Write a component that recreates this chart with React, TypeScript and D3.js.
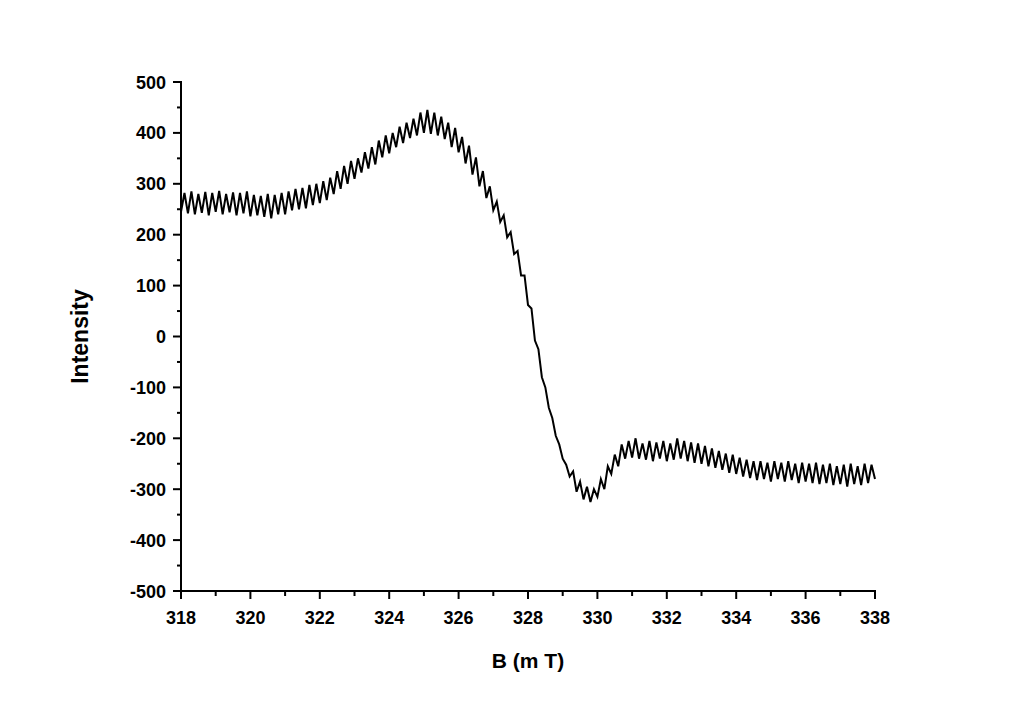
import React from "react";
import * as d3 from "d3";

// Magnetic field B (mT), sampled every 0.1 mT from 318 to 338
const fieldStart = 318;
const fieldStep = 0.1;

// Intensity readings (peaks and troughs of the noisy trace)
const intensity: number[] = [
  245, 282, 242, 285, 240, 280, 243, 284, 238, 282,
  245, 286, 240, 280, 244, 283, 238, 282, 242, 285,
  236, 278, 238, 276, 235, 280, 232, 278, 240, 282,
  240, 285, 248, 290, 250, 292, 252, 298, 258, 300,
  262, 305, 268, 312, 280, 325, 290, 335, 300, 345,
  310, 350, 322, 362, 330, 372, 338, 385, 352, 395,
  360, 400, 372, 412, 380, 420, 390, 428, 395, 440,
  400, 445, 398, 440, 395, 432, 388, 420, 372, 410,
  362, 392, 340, 375, 318, 352, 295, 325, 272, 295,
  248, 265, 225, 238, 195, 205, 162, 168, 120, 120,
  62, 55, -8, -25, -80, -100, -140, -160, -195, -212,
  -240, -252, -275, -265, -305, -285, -320, -295, -325, -300,
  -315, -280, -300, -255, -270, -232, -255, -212, -240, -205,
  -238, -200, -240, -210, -242, -205, -245, -208, -240, -205,
  -245, -210, -242, -200, -240, -205, -245, -208, -248, -210,
  -250, -215, -255, -220, -258, -225, -262, -230, -268, -232,
  -270, -238, -275, -242, -278, -245, -282, -245, -280, -248,
  -285, -245, -280, -248, -285, -245, -282, -250, -288, -248,
  -285, -250, -288, -248, -290, -252, -288, -250, -292, -255,
  -290, -252, -295, -250, -290, -255, -292, -250, -288, -252,
  -280,
];

const xTicks = [318, 320, 322, 324, 326, 328, 330, 332, 334, 336, 338];
const yTicks = [-500, -400, -300, -200, -100, 0, 100, 200, 300, 400, 500];

const xLabel = "B (m T)";
const yLabel = "Intensity";

export default function App() {
  const W = 1016;
  const H = 710;
  const left = 181;
  const right = 875;
  const top = 82;
  const bottom = 591;

  const x = d3.scaleLinear().domain([318, 338]).range([left, right]);
  const y = d3.scaleLinear().domain([-500, 500]).range([bottom, top]);

  const pts: [number, number][] = intensity.map((v, i) => [
    fieldStart + i * fieldStep,
    v,
  ]);
  const line = d3
    .line<[number, number]>()
    .x((d) => x(d[0]))
    .y((d) => y(d[1]));

  const xMinor = d3.range(319, 338, 2);
  const yMinor = d3.range(-450, 500, 100);

  const font = "'Liberation Sans', Arial, sans-serif";

  return (
    <svg
      width={W}
      height={H}
      style={{ position: "absolute", left: 0, top: 0, background: "#fff" }}
      fontFamily={font}
    >
      <rect x={0} y={0} width={W} height={H} fill="#fff" />
      <path
        d={line(pts) || ""}
        fill="none"
        stroke="#000"
        strokeWidth={2}
        strokeLinejoin="miter"
      />
      {/* axes */}
      <line x1={left} y1={top - 1} x2={left} y2={bottom + 1} stroke="#000" strokeWidth={2} />
      <line x1={left - 1} y1={bottom} x2={right + 1} y2={bottom} stroke="#000" strokeWidth={2} />
      {yTicks.map((t) => (
        <g key={"y" + t}>
          <line x1={left - 8} x2={left} y1={y(t)} y2={y(t)} stroke="#000" strokeWidth={2} />
          <text
            x={left - 15}
            y={y(t) + 6.5}
            textAnchor="end"
            fontSize={18}
            fontWeight="bold"
          >
            {t}
          </text>
        </g>
      ))}
      {yMinor.map((t) => (
        <line key={"ym" + t} x1={left - 4} x2={left} y1={y(t)} y2={y(t)} stroke="#000" strokeWidth={2} />
      ))}
      {xTicks.map((t) => (
        <g key={"x" + t}>
          <line x1={x(t)} x2={x(t)} y1={bottom} y2={bottom + 8} stroke="#000" strokeWidth={2} />
          <text
            x={x(t)}
            y={bottom + 33}
            textAnchor="middle"
            fontSize={18}
            fontWeight="bold"
          >
            {t}
          </text>
        </g>
      ))}
      {xMinor.map((t) => (
        <line key={"xm" + t} x1={x(t)} x2={x(t)} y1={bottom} y2={bottom + 5} stroke="#000" strokeWidth={2} />
      ))}
      <text
        x={(left + right) / 2}
        y={668}
        textAnchor="middle"
        fontSize={21}
        fontWeight="bold"
      >
        {xLabel}
      </text>
      <text
        transform={`translate(88, ${(top + bottom) / 2}) rotate(-90)`}
        textAnchor="middle"
        fontSize={23}
        fontWeight="bold"
      >
        {yLabel}
      </text>
    </svg>
  );
}
